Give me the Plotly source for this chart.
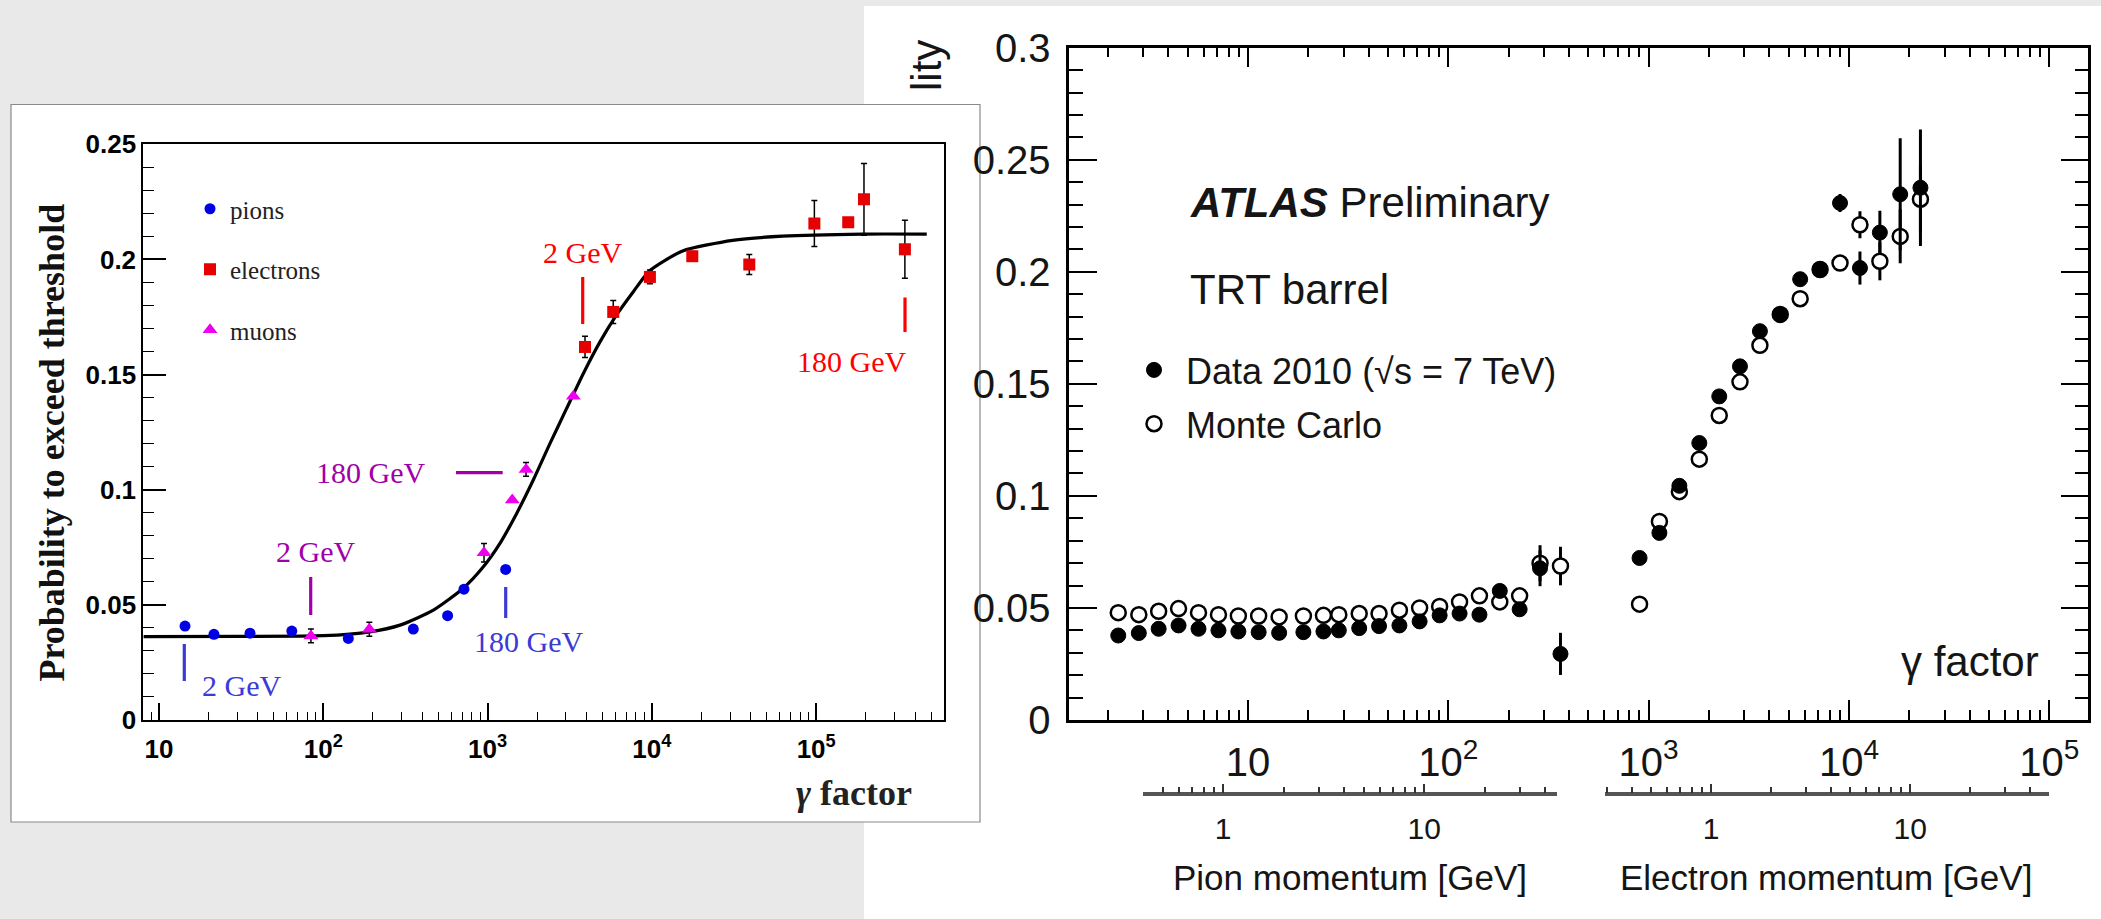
import plotly.graph_objects as go

W, H = 2101, 919

# ---------------- Left panel data ----------------
pion_gamma = [14.4, 21.6, 35.8, 64.3, 142, 353, 571, 718, 1288]
pion_prob = [0.0408, 0.0372, 0.0377, 0.0386, 0.0354, 0.0395, 0.0453, 0.0568, 0.0654]

elec_gamma = [3917, 5817, 9727, 17620, 39170, 97500, 156700, 195400, 346700]
elec_prob = [0.1620, 0.1772, 0.1924, 0.2014, 0.1978, 0.2156, 0.2162, 0.2261, 0.2044]
elec_err = [0.0046, 0.0050, 0.0030, 0.0020, 0.0043, 0.0100, 0.0, 0.0156, 0.0126]

muon_gamma = [84.1, 190.6, 951, 1413, 1714, 3327]
muon_prob = [0.0365, 0.0394, 0.0726, 0.0955, 0.1088, 0.1406]
muon_err = [0.003, 0.003, 0.004, 0.0, 0.003, 0.0]

fit_gamma = [8.04, 31.62, 100, 191.9, 293.1, 467.7, 711.2, 941.9, 1189, 1503, 1897, 2399,
             3027, 3828, 4831, 6109, 7709, 9661, 15380, 30970, 62370, 191000, 471000]
fit_prob = [0.0362, 0.0363, 0.0366, 0.0383, 0.0412, 0.0477, 0.0572, 0.0665, 0.0767, 0.0897,
            0.1042, 0.1201, 0.1353, 0.1505, 0.1642, 0.1760, 0.1860, 0.1950, 0.2037, 0.2083,
            0.2101, 0.2110, 0.2110]

left_xtick_vals = [10, 100, 1000, 10000, 100000]
left_xtick_text = ["10", "10<sup>2</sup>", "10<sup>3</sup>", "10<sup>4</sup>", "10<sup>5</sup>"]

# ---------------- Right panel data (ATLAS TRT barrel) ----------------
trt_pion_gamma = [2.25, 2.85, 3.58, 4.50, 5.66, 7.12, 8.95, 11.3, 14.3, 18.9, 23.8, 28.4,
                  35.9, 45.1, 57.0, 71.9, 90.5, 113.8, 143, 180.7, 227, 287, 363]
trt_pion_data = [0.0377, 0.0388, 0.0407, 0.0422, 0.0407, 0.0400, 0.0395, 0.0392, 0.0389, 0.0392,
                 0.0395, 0.0400, 0.0410, 0.0419, 0.0422, 0.0440, 0.0467, 0.0475, 0.0470, 0.0576,
                 0.0494, 0.0677, 0.0295]
trt_pion_mc = [0.0479, 0.0470, 0.0485, 0.0497, 0.0479, 0.0470, 0.0464, 0.0464, 0.0460, 0.0464,
               0.0467, 0.0470, 0.0475, 0.0475, 0.0490, 0.0500, 0.0507, 0.0527, 0.0554, 0.0527,
               0.0554, 0.0700, 0.0687]
trt_pion_data_err = [0.0] * 21 + [0.0080, 0.0094]
trt_pion_mc_err = [0.0] * 21 + [0.0080, 0.0086]

trt_elec_gamma = [901, 1132, 1424, 1791, 2252, 2858, 3594, 4540, 5708, 7178, 9026, 11350,
                  14270, 18030, 22750]
trt_elec_data = [0.0723, 0.0835, 0.1045, 0.1236, 0.1444, 0.1578, 0.1735, 0.1808, 0.1967,
                 0.2013, 0.2307, 0.2017, 0.2175, 0.2346, 0.2375]
trt_elec_mc = [0.0517, 0.0886, 0.1019, 0.1164, 0.1359, 0.1509, 0.1672, 0.1810, 0.1880,
               0.2010, 0.2039, 0.2210, 0.2047, 0.2158, 0.2324]
trt_elec_data_err = [0.0] * 10 + [0.0040, 0.0074, 0.0097, 0.0250, 0.0260]
trt_elec_mc_err = [0.0] * 11 + [0.0060, 0.0085, 0.0120, 0.0150]

right_xtick_vals = [10, 100, 1000, 10000, 100000]
right_xtick_text = ["10", "10<sup>2</sup>", "10<sup>3</sup>", "10<sup>4</sup>", "10<sup>5</sup>"]
mom_tick_vals = [1, 10]
mom_tick_text = ["1", "10"]


def fx(px):
    return px / W


def fy(py):
    return 1 - py / H


def minor_log(lo, hi):
    vals = []
    dec = 0.01
    while dec < hi:
        for m in range(2, 10):
            v = m * dec
            if lo <= v <= hi:
                vals.append(v)
        dec *= 10
    return vals


SERIF = "Liberation Serif"
SANS = "Liberation Sans"
INK = "#151515"

fig = go.Figure()

# ---------- right panel traces ----------
fig.add_trace(go.Scatter(
    x=trt_pion_gamma + trt_elec_gamma, y=trt_pion_mc + trt_elec_mc,
    error_y=dict(type="data", array=trt_pion_mc_err + trt_elec_mc_err, thickness=3, width=0, color="black"),
    mode="markers", name="Monte Carlo",
    marker=dict(symbol="circle", size=15, color="white", line=dict(color="black", width=2.5)),
    xaxis="x2", yaxis="y2", legend="legend2", legendgroup="mc", legendrank=2, hoverinfo="skip"))
fig.add_trace(go.Scatter(
    x=trt_pion_gamma + trt_elec_gamma, y=trt_pion_data + trt_elec_data,
    error_y=dict(type="data", array=trt_pion_data_err + trt_elec_data_err, thickness=3, width=0, color="black"),
    mode="markers", name="Data 2010 (√s = 7 TeV)",
    marker=dict(symbol="circle", size=15, color="black", line=dict(color="black", width=1)),
    xaxis="x2", yaxis="y2", legend="legend2", legendgroup="data", legendrank=1, hoverinfo="skip"))

# dummy traces to create the momentum axes
fig.add_trace(go.Scatter(x=mom_tick_vals, y=[None, None], mode="markers", showlegend=False,
                         xaxis="x3", yaxis="y3", hoverinfo="skip"))
fig.add_trace(go.Scatter(x=mom_tick_vals, y=[None, None], mode="markers", showlegend=False,
                         xaxis="x4", yaxis="y3", hoverinfo="skip"))

# ---------- left panel traces ----------
fig.add_trace(go.Scatter(x=fit_gamma, y=fit_prob, mode="lines",
                         line=dict(color="black", width=3.2, shape="spline", smoothing=0.6),
                         showlegend=False, xaxis="x", yaxis="y", hoverinfo="skip"))
fig.add_trace(go.Scatter(x=pion_gamma, y=pion_prob, mode="markers", name="pions",
                         marker=dict(symbol="circle", size=11, color="#0000e6"),
                         xaxis="x", yaxis="y", legend="legend", legendgroup="p", hoverinfo="skip"))
fig.add_trace(go.Scatter(x=elec_gamma, y=elec_prob, mode="markers", name="electrons",
                         error_y=dict(type="data", array=elec_err, thickness=1.5, width=3, color="black"),
                         marker=dict(symbol="square", size=12, color="#e60000"),
                         xaxis="x", yaxis="y", legend="legend", legendgroup="e", hoverinfo="skip"))
fig.add_trace(go.Scatter(x=muon_gamma, y=muon_prob, mode="markers", name="muons",
                         error_y=dict(type="data", array=muon_err, thickness=1.5, width=3, color="black"),
                         marker=dict(symbol="triangle-up", size=13, color="#ee00ee"),
                         xaxis="x", yaxis="y", legend="legend", legendgroup="m", hoverinfo="skip"))

# ---------- shapes: panel backgrounds and label markers ----------
shapes = [
    dict(type="rect", xref="paper", yref="paper", x0=fx(864), x1=1.0, y0=fy(919), y1=fy(6),
         fillcolor="white", line=dict(width=0), layer="below"),
    dict(type="rect", xref="paper", yref="paper", x0=fx(11), x1=fx(980), y0=fy(822), y1=fy(104.5),
         fillcolor="white", line=dict(color="#8a8a8a", width=1.2), layer="below"),
]
BLUE_L = "#3a3ad4"
PURP_L = "#a000a8"
RED_L = "#ff0000"
for (xa, ya, xb, yb, col) in [
    (184.3, 644, 184.3, 681, BLUE_L),
    (505.7, 587, 505.7, 618, BLUE_L),
    (310.7, 577, 310.7, 615, PURP_L),
    (456, 472.7, 502.7, 472.7, PURP_L),
    (582.7, 277, 582.7, 324, RED_L),
    (905, 297.5, 905, 332, RED_L),
]:
    shapes.append(dict(type="line", xref="paper", yref="paper", x0=fx(xa), x1=fx(xb),
                       y0=fy(ya), y1=fy(yb), line=dict(color=col, width=3.2), layer="above"))

annotations = []


def ann(text, x, y, size, color=INK, family=SANS, xanchor="center", angle=0):
    annotations.append(dict(text=text, x=fx(x), y=fy(y), xref="paper", yref="paper",
                            showarrow=False, xanchor=xanchor, yanchor="middle", textangle=angle,
                            font=dict(family=family, size=size, color=color)))


# left panel labels
ann("2 GeV", 241.5, 685, 30, BLUE_L, SERIF)
ann("180 GeV", 528, 641.7, 30, BLUE_L, SERIF)
ann("2 GeV", 315, 551.7, 30, PURP_L, SERIF)
ann("180 GeV", 370.5, 472.7, 30, PURP_L, SERIF)
ann("2 GeV", 582.5, 252.7, 30, RED_L, SERIF)
ann("180 GeV", 851, 361.4, 30, RED_L, SERIF)
ann("<b>Probability to exceed threshold</b>", 51, 442.5, 36, "#111", SERIF, angle=-90)
ann("<b><i>γ</i> factor</b>", 854, 793, 36, "#222", SERIF)

# right panel labels
ann("lity", 926, 66, 42, INK, SANS, angle=-90)
ann("<b><i>ATLAS</i></b> Preliminary", 1188, 202, 42, INK, SANS, xanchor="left")
ann("TRT barrel", 1188, 289, 42, INK, SANS, xanchor="left")
ann("γ factor", 2041, 661, 42, INK, SANS, xanchor="right")
ann("Pion momentum [GeV]", 1350, 877, 35, INK, SANS)
ann("Electron momentum [GeV]", 1826, 877, 35, INK, SANS)

axis_common = dict(showgrid=False, zeroline=False, showline=True, automargin=False)

fig.update_layout(
    template="none",
    width=W, height=H, margin=dict(l=0, r=0, t=0, b=0, pad=0, autoexpand=False),
    paper_bgcolor="#e9e9e9", plot_bgcolor="rgba(0,0,0,0)",
    shapes=shapes, annotations=annotations,
    xaxis=dict(**axis_common, type="log", range=[0.9044, 5.778], linecolor="black",
               domain=[fx(143.3), fx(944)], anchor="y", linewidth=2, mirror=True,
               ticks="inside", ticklen=17, tickwidth=1.5, tickcolor="black",
               tickmode="array", tickvals=left_xtick_vals, ticktext=left_xtick_text,
               ticklabelstandoff=5,
               tickfont=dict(family=SANS, size=26, color="black", weight="bold"),
               minor=dict(tickmode="array", tickvals=minor_log(8.0, 6e5), ticks="inside",
                          ticklen=8, tickwidth=1.3, tickcolor="black", showgrid=False)),
    yaxis=dict(**axis_common, range=[0, 0.25], domain=[fy(720), fy(144.3)], anchor="x",
               linecolor="black",
               linewidth=2, mirror=True, ticks="inside", ticklen=23, tickwidth=1.5,
               tickcolor="black", dtick=0.05, tick0=0, ticklabelstandoff=0,
               tickfont=dict(family=SANS, size=26, color="black", weight="bold"),
               minor=dict(dtick=0.01, ticks="inside", ticklen=11, tickwidth=1.3,
                          tickcolor="black", showgrid=False)),
    xaxis2=dict(**axis_common, type="log", range=[0.1078, 5.195], linecolor="black",
                domain=[fx(1069.3), fx(2088.3)], anchor="y2", linewidth=2.5, mirror="allticks",
                ticks="inside", ticklen=20, tickwidth=2, tickcolor="black",
                tickmode="array", tickvals=right_xtick_vals, ticktext=right_xtick_text,
                ticklabelstandoff=5,
                tickfont=dict(family=SANS, size=40, color=INK),
                minor=dict(tickmode="array", tickvals=minor_log(1.2, 1.6e5), ticks="inside",
                           ticklen=10, tickwidth=2, tickcolor="black", showgrid=False)),
    yaxis2=dict(**axis_common, range=[0, 0.3], domain=[fy(720), fy(47.7)], anchor="x2",
                linecolor="black",
                linewidth=2.5, mirror="allticks", ticks="inside", ticklen=28, tickwidth=2,
                tickcolor="black", dtick=0.05, tick0=0, ticklabelstandoff=8,
                tickfont=dict(family=SANS, size=40, color=INK),
                minor=dict(dtick=0.01, ticks="inside", ticklen=14, tickwidth=2,
                           tickcolor="black", showgrid=False)),
    yaxis3=dict(domain=[fy(792.3), fy(782)], anchor="x3", visible=False, range=[0, 1],
                automargin=False),
    xaxis3=dict(**axis_common, type="log", range=[-0.3965, 1.660],
                domain=[fx(1143.4), fx(1556.8)], anchor="y3",
                linewidth=3.5, linecolor="#555555", ticks="inside", ticklen=9, tickwidth=1.6,
                tickcolor="#333333", tickmode="array", tickvals=mom_tick_vals, ticktext=mom_tick_text,
                ticklabelstandoff=7, tickfont=dict(family=SANS, size=30, color=INK),
                minor=dict(tickmode="array", tickvals=minor_log(0.4, 50), ticks="inside",
                           ticklen=6, tickwidth=1.6, tickcolor="#333333", showgrid=False)),
    xaxis4=dict(**axis_common, type="log", range=[-0.532, 1.699],
                domain=[fx(1605.3), fx(2049.3)], anchor="y3",
                linewidth=3.5, linecolor="#555555", ticks="inside", ticklen=9, tickwidth=1.6,
                tickcolor="#333333", tickmode="array", tickvals=mom_tick_vals, ticktext=mom_tick_text,
                ticklabelstandoff=7, tickfont=dict(family=SANS, size=30, color=INK),
                minor=dict(tickmode="array", tickvals=minor_log(0.3, 50), ticks="inside",
                           ticklen=6, tickwidth=1.6, tickcolor="#333333", showgrid=False)),
    legend=dict(x=fx(190), y=fy(186), xanchor="left", yanchor="top", bgcolor="rgba(0,0,0,0)",
                font=dict(family=SERIF, size=25, color="#222"), tracegroupgap=25,
                traceorder="grouped", borderwidth=0),
    legend2=dict(x=fx(1122), y=fy(340), xanchor="left", yanchor="top", bgcolor="rgba(0,0,0,0)",
                 font=dict(family=SANS, size=36, color=INK), tracegroupgap=4, itemwidth=54,
                 traceorder="grouped", borderwidth=0),
    showlegend=True,
)

fig.write_html("out.html")
